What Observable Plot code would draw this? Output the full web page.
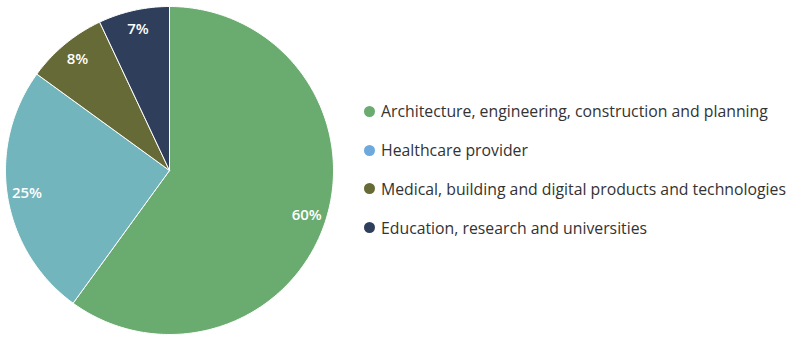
<!DOCTYPE html>
<html>
<head>
<meta charset="utf-8">
<script src="https://cdn.jsdelivr.net/npm/d3@7"></script>
<script src="https://cdn.jsdelivr.net/npm/@observablehq/plot@0.6"></script>
<style>
  body { margin: 0; background: #fff; }
  #wrap { position: relative; width: 790px; height: 342px; font-family: "Open Sans", sans-serif; }
  #legend { position: absolute; left: 362px; top: 92px; }
  .item { display: flex; align-items: center; height: 38.8px; font-size: 15.8px; color: #333; white-space: nowrap; }
  .sw { width: 11px; height: 11px; border-radius: 50%; margin-right: 6px; margin-left: 2px; }
</style>
</head>
<body>
<div id="wrap"><div id="legend"></div></div>
<script>
const categories = [
  "Architecture, engineering, construction and planning",
  "Healthcare provider",
  "Medical, building and digital products and technologies",
  "Education, research and universities"
];
const values = [60, 25, 8, 7];
const sliceColors = ["#6aab6f", "#72b5bc", "#666a36", "#2f3f5b"];
const legendColors = ["#6aab6f", "#6ea9dd", "#666a36", "#2f3f5b"];
const labels = ["60%", "25%", "8%", "7%"];

const data = categories.map((c, i) => ({category: c, value: values[i], label: labels[i]}));
const arcs = d3.pie().sort(null).value(d => d.value)(data);

// build arc outlines in unit coordinates (angle measured clockwise from top)
const pts = [];
arcs.forEach(a => {
  const c = a.data.category;
  pts.push({category: c, x: 0, y: 0});
  const n = Math.max(2, Math.ceil((a.endAngle - a.startAngle) / (Math.PI / 180)));
  for (let k = 0; k <= n; k++) {
    const t = a.startAngle + (a.endAngle - a.startAngle) * k / n;
    pts.push({category: c, x: Math.sin(t), y: Math.cos(t)});
  }
  pts.push({category: c, x: 0, y: 0});
});
const labelPts = arcs.map(a => {
  const m = (a.startAngle + a.endAngle) / 2;
  return {label: a.data.label, x: 0.88 * Math.sin(m), y: 0.88 * Math.cos(m)};
});

const chart = Plot.plot({
  width: 790,
  height: 342,
  margin: 0,
  x: {domain: [-1, 1], range: [5, 333], axis: null},
  y: {domain: [-1, 1], range: [334, 6], axis: null},
  color: {domain: categories, range: sliceColors},
  style: {fontFamily: "Open Sans, sans-serif"},
  marks: [
    Plot.line(pts, {x: "x", y: "y", z: "category", fill: "category", stroke: "#fff", strokeWidth: 1, curve: "linear-closed"}),
    Plot.text(labelPts, {x: "x", y: "y", text: "label", fill: "#fff", fontSize: 15, fontWeight: 600})
  ]
});
const wrap = document.getElementById("wrap");
wrap.insertBefore(chart, wrap.firstChild);

const legend = document.getElementById("legend");
categories.forEach((c, i) => {
  const it = document.createElement("div");
  it.className = "item";
  const sw = document.createElement("span");
  sw.className = "sw";
  sw.style.background = legendColors[i];
  const tx = document.createElement("span");
  tx.textContent = c;
  it.appendChild(sw); it.appendChild(tx);
  legend.appendChild(it);
});
</script>
</body>
</html>
